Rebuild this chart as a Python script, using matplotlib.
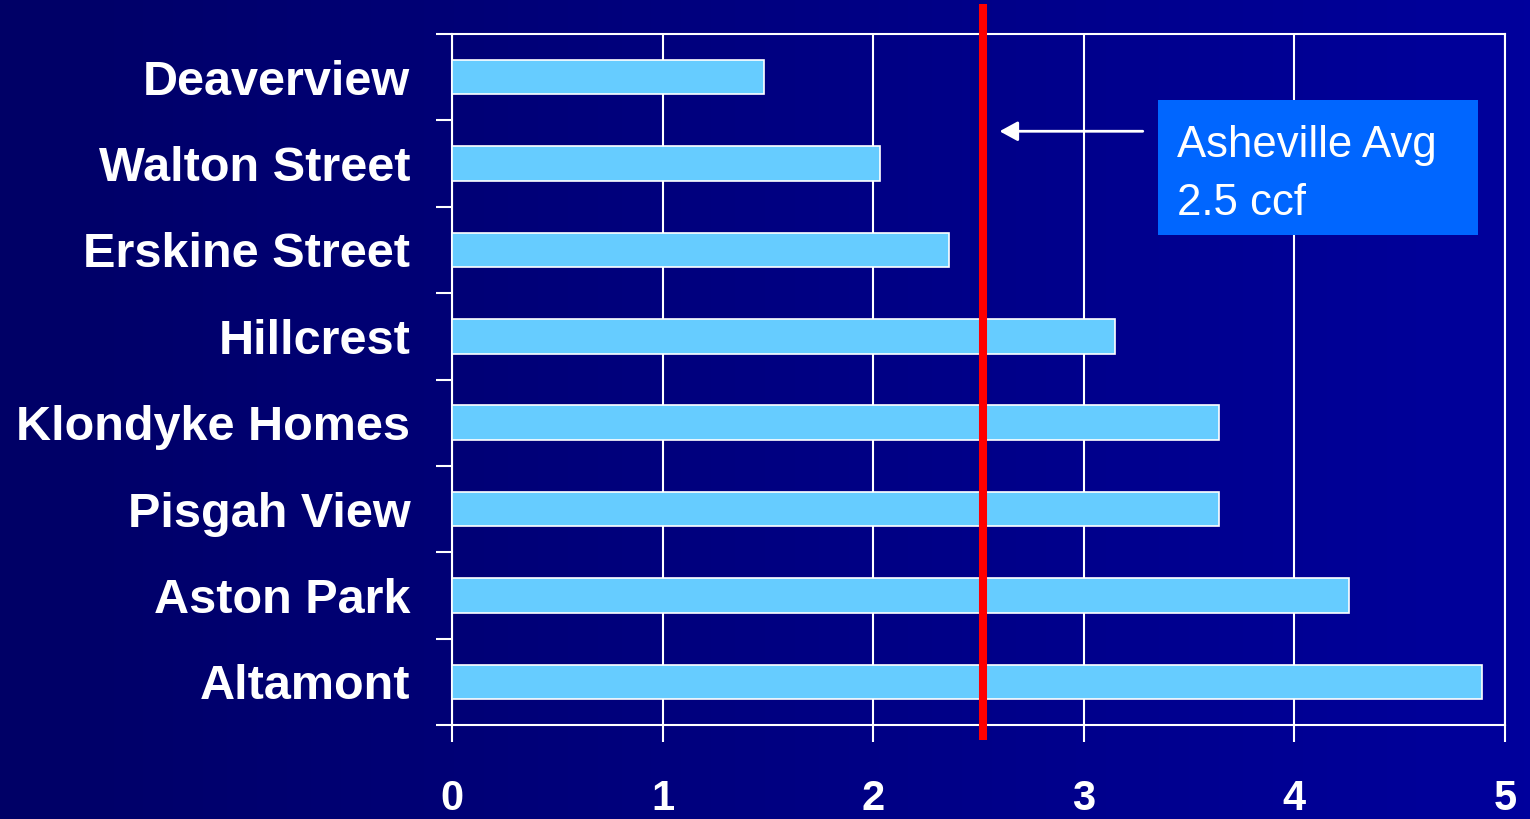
import numpy as np
import matplotlib
matplotlib.use("Agg")
import matplotlib.pyplot as plt
from matplotlib.colors import LinearSegmentedColormap
from matplotlib.patches import Rectangle

categories = ["Deaverview", "Walton Street", "Erskine Street", "Hillcrest",
              "Klondyke Homes", "Pisgah View", "Aston Park", "Altamont"]
values = [1.48, 2.03, 2.36, 3.15, 3.64, 3.64, 4.26, 4.89]
avg_value = 2.52
xticks = [0, 1, 2, 3, 4, 5]
avg_lines = ["Asheville Avg", "2.5 ccf"]

W, H, DPI = 15.3, 8.19, 100
fig = plt.figure(figsize=(W, H), dpi=DPI)

# gradient background
bg = fig.add_axes([0, 0, 1, 1], zorder=-10)
grad = np.linspace(0, 1, 256)[None, :]
cmap = LinearSegmentedColormap.from_list("bg", ["#000066", "#00009C"])
bg.imshow(grad, aspect="auto", cmap=cmap, extent=[0, 1, 0, 1])
bg.axis("off")

L, R, T, B = 452 / 1530, 1505 / 1530, 1 - 34 / 819, 1 - 725 / 819
ax = fig.add_axes([L, B, R - L, T - B])
ax.patch.set_alpha(0)

n = len(categories)
ypos = np.arange(n)
ax.barh(ypos, values, height=0.4, color="#66CCFF", edgecolor="white",
        linewidth=1.2, zorder=3)
ax.set_xlim(0, 5)
ax.set_ylim(n - 0.5, -0.5)

ax.set_xticks(xticks)
ax.xaxis.grid(True, color="white", linewidth=1.5, zorder=1)
ax.yaxis.grid(False)

for s in ax.spines.values():
    s.set_color("white")
    s.set_linewidth(1.5)

ax.tick_params(axis="x", colors="white", length=12, width=1.5, pad=27,
               labelsize=30)
for lab in ax.get_xticklabels():
    lab.set_fontweight("bold")
    lab.set_family("Liberation Sans")

ax.set_yticks(np.arange(n + 1) - 0.5)
ax.set_yticklabels([])
ax.tick_params(axis="y", which="major", colors="white", length=11.5, width=1.5)
ax.set_yticks(ypos, minor=True)
ax.set_yticklabels(categories, minor=True, fontsize=35, fontweight="bold",
                   family="Liberation Sans", color="white")
ax.tick_params(axis="y", which="minor", length=0, pad=30)

# average line
y_top = (725 - 4) / 691
y_bot = (725 - 740) / 691
ax.axvline(avg_value, ymin=y_bot, ymax=y_top, color="#FF0000", linewidth=5.8,
           clip_on=False, zorder=5, solid_capstyle="butt")

# arrow
ax.annotate("", xy=(2.6, 0.626), xytext=(3.28, 0.626),
            arrowprops=dict(arrowstyle="-|>,head_length=0.55,head_width=0.3",
                            color="white", lw=2, mutation_scale=20,
                            shrinkA=0, shrinkB=0),
            zorder=6)

# label box
ax.add_patch(Rectangle((3.352, 0.264), 4.872 - 3.352, 1.827 - 0.264,
                       facecolor="#0066FF", edgecolor="none", zorder=6,
                       clip_on=False))
ax.text(3.443, 0.924, avg_lines[0], ha="left", va="baseline", fontsize=31.5,
        color="white", family="Liberation Sans", zorder=7)
ax.text(3.443, 1.596, avg_lines[1], ha="left", va="baseline", fontsize=31.5,
        color="white", family="Liberation Sans", zorder=7)

fig.savefig("out.png", dpi=DPI)
